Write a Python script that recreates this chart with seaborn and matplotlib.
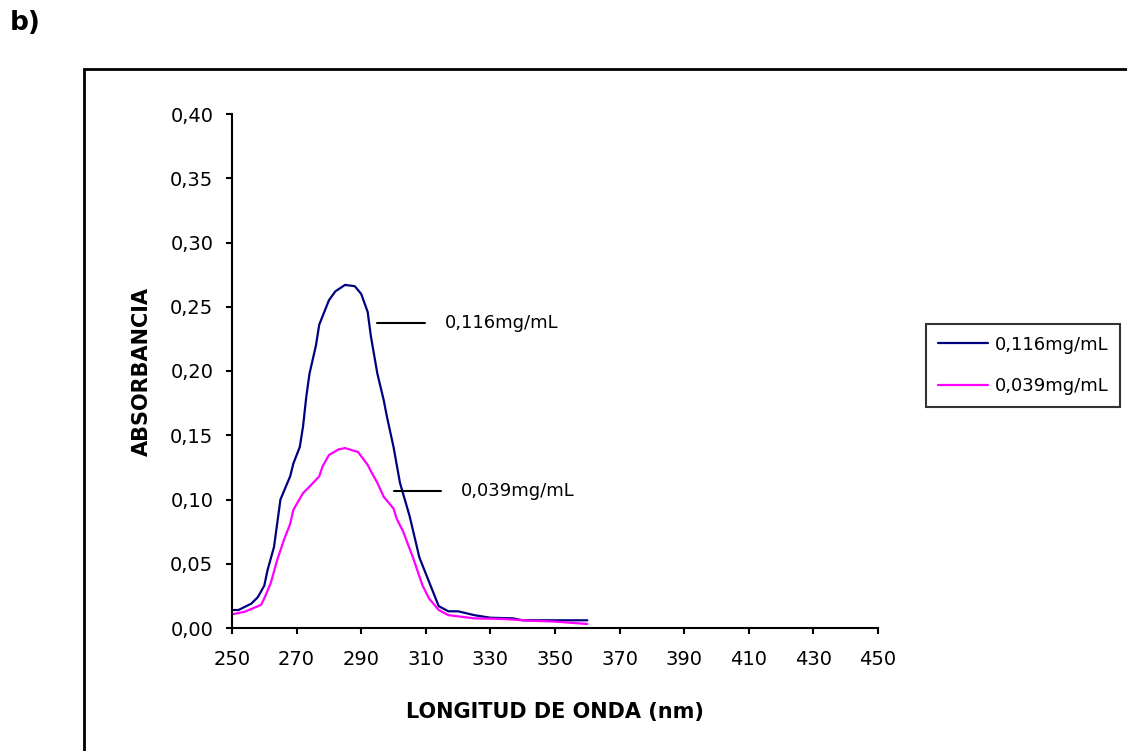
import matplotlib
matplotlib.use("Agg")
import matplotlib.pyplot as plt
from matplotlib.patches import Rectangle
import seaborn as sns
import pandas as pd

# ---- data ----
wl_116 = [250, 252, 256, 258, 260, 261, 263, 265, 268, 269, 271, 272, 273, 274, 276,
          277, 280, 282, 285, 288, 290, 292, 293, 295, 297, 298, 300, 302, 305, 308,
          311, 314, 317, 320, 325, 330, 337, 340, 350, 360]
abs_116 = [0.014, 0.014, 0.019, 0.024, 0.033, 0.045, 0.063, 0.100, 0.118, 0.128, 0.141,
           0.157, 0.180, 0.198, 0.220, 0.236, 0.255, 0.262, 0.267, 0.266, 0.260, 0.246,
           0.227, 0.198, 0.177, 0.164, 0.141, 0.113, 0.087, 0.055, 0.036, 0.017, 0.013,
           0.013, 0.010, 0.008, 0.0075, 0.006, 0.006, 0.006]

wl_039 = [250, 254, 259, 260, 262, 264, 266, 268, 269, 272, 274, 277, 278, 280, 283,
          285, 289, 292, 293, 295, 297, 300, 301, 303, 306, 309, 311, 314, 317, 325,
          334, 342, 350, 360]
abs_039 = [0.0106, 0.0127, 0.018, 0.023, 0.035, 0.053, 0.068, 0.081, 0.092, 0.105, 0.110,
           0.118, 0.1255, 0.1346, 0.139, 0.140, 0.137, 0.127, 0.122, 0.113, 0.102, 0.093,
           0.085, 0.075, 0.055, 0.033, 0.023, 0.014, 0.010, 0.0075, 0.007, 0.0057, 0.005,
           0.0031]

series_names = ["0,116mg/mL", "0,039mg/mL"]
series_colors = ["#000080", "#FF00FF"]
x_ticks = [250, 270, 290, 310, 330, 350, 370, 390, 410, 430, 450]
y_ticks = [0.00, 0.05, 0.10, 0.15, 0.20, 0.25, 0.30, 0.35, 0.40]
y_tick_labels = ["0,00", "0,05", "0,10", "0,15", "0,20", "0,25", "0,30", "0,35", "0,40"]

df = pd.concat([
    pd.DataFrame({"wl": wl_116, "abs": abs_116, "serie": series_names[0]}),
    pd.DataFrame({"wl": wl_039, "abs": abs_039, "serie": series_names[1]}),
], ignore_index=True)

sns.set_style("ticks")
plt.rcParams["font.family"] = ["DejaVu Sans"]
plt.rcParams["text.color"] = "black"
plt.rcParams["axes.labelcolor"] = "black"
plt.rcParams["xtick.color"] = "black"
plt.rcParams["ytick.color"] = "black"

W, H = 1127, 751
fig = plt.figure(figsize=(W / 100, H / 100), dpi=100)
ax = fig.add_axes([232 / W, 1 - 628 / H, (878 - 232) / W, (628 - 114) / H])

sns.lineplot(data=df, x="wl", y="abs", hue="serie", hue_order=series_names,
             palette=series_colors, estimator=None, sort=False, linewidth=1.6,
             ax=ax, legend=True)

ax.set_xlim(250, 450)
ax.set_ylim(0, 0.40)
ax.set_xticks(x_ticks)
ax.set_xticklabels([str(v) for v in x_ticks])
ax.set_yticks(y_ticks)
ax.set_yticklabels(y_tick_labels)
ax.tick_params(axis="both", direction="out", length=4.5, width=1.5, color="black",
               labelsize=14, labelcolor="black")
ax.tick_params(axis="x", pad=11)
ax.tick_params(axis="y", pad=9)
sns.despine(ax=ax)
for s in ["left", "bottom"]:
    ax.spines[s].set_linewidth(1.5)
    ax.spines[s].set_color("black")
ax.set_facecolor("white")

ax.set_xlabel("LONGITUD DE ONDA (nm)", fontsize=15, fontweight="bold", va="center",
              color="black")
ax.xaxis.set_label_coords(0.5, (628 - 712) / 514)
ax.set_ylabel("ABSORBANCIA", fontsize=15, fontweight="bold", va="center", color="black")
ax.yaxis.set_label_coords((142 - 232) / 646, 0.5)

# callouts
ax.plot([294.9, 309.7], [0.2376, 0.2376], color="black", lw=1.5)
ax.text(315.9, 0.2376, series_names[0], fontsize=13, va="center", ha="left", color="black")
ax.plot([300.2, 314.7], [0.1066, 0.1066], color="black", lw=1.5)
ax.text(320.8, 0.1066, series_names[1], fontsize=13, va="center", ha="left", color="black")

leg = ax.legend(loc="upper left", bbox_to_anchor=(926 / W, 1 - 324 / H),
                bbox_transform=fig.transFigure, borderaxespad=0, fontsize=13,
                frameon=True, fancybox=False, handlelength=2.8, handletextpad=0.35,
                labelspacing=1.3, borderpad=0.65, title=None, labelcolor="black")
leg.get_frame().set_edgecolor("black")
leg.get_frame().set_linewidth(1.5)
for line in leg.get_lines():
    line.set_linewidth(1.6)

# outer frame and panel letter
fig.patches.append(Rectangle((84 / W, -0.2), 1.0, (751 - 69) / H + 0.2,
                             transform=fig.transFigure, fill=False,
                             edgecolor="black", linewidth=2.0))
fig.text(10 / W, 1 - 23 / H, "b)", fontsize=19, fontweight="bold", va="center",
         ha="left", color="black")

fig.savefig("out.png", dpi=100, facecolor="white")
